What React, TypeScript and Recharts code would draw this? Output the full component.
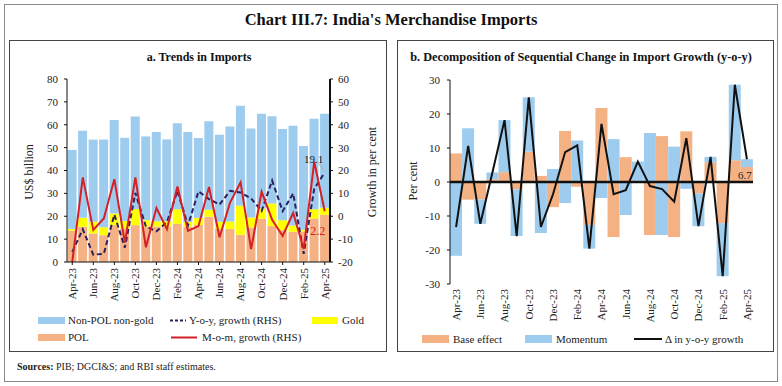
import React from "react";
import { ComposedChart, Bar, Line, XAxis, YAxis, ReferenceLine } from "recharts";

const months = [
  "Apr-23", "May-23", "Jun-23", "Jul-23", "Aug-23", "Sep-23", "Oct-23", "Nov-23", "Dec-23",
  "Jan-24", "Feb-24", "Mar-24", "Apr-24", "May-24", "Jun-24", "Jul-24", "Aug-24", "Sep-24",
  "Oct-24", "Nov-24", "Dec-24", "Jan-25", "Feb-25", "Mar-25", "Apr-25",
];

// panel a: US$ billion
const polImports = [13.7, 15.4, 12.5, 11.7, 16.1, 14.7, 16.1, 15.6, 15.5, 15.5, 16.7, 15.4, 16.2, 19.8, 14.4, 14.4, 11.9, 15.0, 18.9, 15.7, 13.9, 13.2, 13.3, 19.0, 20.6];
const goldImports = [0.8, 3.9, 5.1, 3.5, 5.1, 3.2, 7.1, 2.7, 2.3, 2.3, 6.4, 2.1, 3.1, 3.0, 3.2, 3.3, 12.7, 4.4, 4.5, 9.9, 4.4, 2.8, 0.8, 4.1, 3.1];
const nonPolNonGold = [34.5, 38.1, 35.9, 38.3, 40.9, 36.4, 40.4, 36.6, 39.0, 35.8, 37.6, 39.3, 34.9, 38.7, 38.0, 41.5, 43.7, 39.0, 41.4, 38.1, 39.8, 43.6, 36.6, 39.5, 41.1];
// panel a: per cent (RHS)
const yoyGrowth = [-15.6, -5.7, -16.8, -16.4, 0.7, -13.7, 10.2, -4.5, -6.6, -2.5, 11.0, -4.0, 10.9, 7.5, 5.1, 11.1, 10.4, 7.8, 2.3, 15.6, 2.2, 10.0, -16.4, 12.0, 19.1];
const momGrowth = [-20.0, 17.0, -6.0, -1.0, 16.2, -11.5, 17.0, -13.6, 3.6, -5.6, 13.0, -6.4, -4.3, 12.8, -9.2, 6.0, 14.8, -14.4, 10.7, -1.5, -8.6, 1.5, -14.3, 23.8, 2.2];

// panel b: per cent
const baseEffect = [8.4, -5.2, -5.1, 0.8, 2.9, -2.2, 8.9, 1.8, -7.4, 15.0, -1.4, -12.6, 21.8, -16.2, 7.3, 0.4, -15.6, 13.5, -16.2, 14.9, -3.4, 5.8, -12.1, 6.4, 4.4];
const momentum = [-21.7, 15.8, -7.2, 2.0, 15.3, -13.7, 16.0, -15.0, 3.8, -6.2, 12.2, -7.0, -4.7, 12.6, -9.7, 5.6, 14.4, -15.6, 10.4, -2.0, -9.6, 1.6, -15.6, 22.2, 2.3];
const yoyChange = [-13.3, 10.6, -12.3, 2.8, 18.2, -15.9, 24.9, -13.2, -3.6, 8.8, 10.8, -19.6, 17.1, -3.6, -2.4, 6.0, -1.2, -2.1, -5.8, 12.9, -13.0, 7.4, -27.7, 28.6, 6.7];

const leftTicks = [0, 10, 20, 30, 40, 50, 60, 70, 80];
const rightTicks = [-20, -10, 0, 10, 20, 30, 40, 50, 60];
const panelBTicks = [-30, -20, -10, 0, 10, 20, 30];

const FONT = "'Liberation Serif', 'DejaVu Serif', serif";
const BLUE = "#9DCCEE";
const ORANGE = "#F4B183";
const YELLOW = "#FFFF00";
const RED = "#D42027";
const NAVY = "#2E1F5E";

const importsData = months.map((m, i) => ({
  month: m,
  pol: polImports[i],
  gold: goldImports[i],
  nonPol: nonPolNonGold[i],
  yoy: yoyGrowth[i],
  mom: momGrowth[i],
}));

const decompData = months.map((m, i) => ({
  month: m,
  base: baseEffect[i],
  momentum: momentum[i],
  change: yoyChange[i],
}));

const last = months.length - 1;

const MonthTick = ({ x, y, payload }: any) => (
  <text
    x={x}
    y={y}
    transform={`rotate(-90 ${x} ${y})`}
    textAnchor="end"
    dy="0.35em"
    fontSize={11}
    fontFamily={FONT}
    fill="#222"
  >
    {payload.value}
  </text>
);

const tickStyle = { fontSize: 11, fontFamily: FONT, fill: "#222" };

const YoyLabel = (props: any) => {
  const { x, y, index } = props;
  if (index !== last) return null;
  return (
    <g>
      <line x1={x - 6} y1={y - 9} x2={x - 1} y2={y - 2} stroke="#aaa" strokeWidth={1} />
      <text x={x - 11} y={y - 10} textAnchor="middle" fontSize={11} fontFamily={FONT} fill="#222">
        19.1
      </text>
    </g>
  );
};

const MomLabel = (props: any) => {
  const { x, y, index } = props;
  if (index !== last) return null;
  return (
    <text x={x - 7} y={y + 24} textAnchor="middle" fontSize={12} fontFamily={FONT} fill={RED}>
      2.2
    </text>
  );
};

const ChangeLabel = (props: any) => {
  const { x, y, index } = props;
  if (index !== last) return null;
  return (
    <text x={x - 2} y={y + 20} textAnchor="middle" fontSize={11} fontFamily={FONT} fill="#222">
      6.7
    </text>
  );
};

const Frame = () => (
  <svg width={782} height={386} style={{ position: "absolute", left: 0, top: 0 }}>
    <rect x={4.5} y={4.5} width={773} height={377} fill="none" stroke="#8a8a8a" />
    <rect x={9.5} y={40.5} width={377} height={311} fill="none" stroke="#444" />
    <rect x={397.5} y={40.5} width={376} height={311} fill="none" stroke="#444" />
    <text x={391} y={25} textAnchor="middle" fontSize={16.5} fontWeight="bold" fontFamily={FONT} fill="#111">
      Chart III.7: India's Merchandise Imports
    </text>
    <text x={199} y={61} textAnchor="middle" fontSize={12} fontWeight="bold" fontFamily={FONT} fill="#111">
      a. Trends in Imports
    </text>
    <text x={581} y={61} textAnchor="middle" fontSize={12.3} fontWeight="bold" fontFamily={FONT} fill="#111">
      b. Decomposition of Sequential Change in Import Growth (y-o-y)
    </text>
    <text x={29} y={172} transform="rotate(-90 29 172)" textAnchor="middle" dy="0.35em" fontSize={12} fontFamily={FONT} fill="#222">
      US$ billion
    </text>
    <text x={372} y={172} transform="rotate(-90 372 172)" textAnchor="middle" dy="0.35em" fontSize={12} fontFamily={FONT} fill="#222">
      Growth in per cent
    </text>
    <text x={413} y={181} transform="rotate(-90 413 181)" textAnchor="middle" dy="0.35em" fontSize={12} fontFamily={FONT} fill="#222">
      Per cent
    </text>

    {/* legend a */}
    <g fontSize={11} fontFamily={FONT} fill="#222">
      <rect x={38} y={317} width={27} height={7} fill={BLUE} />
      <text x={68} y={324}>Non-POL non-gold</text>
      <line x1={170} x2={186} y1={320.5} y2={320.5} stroke={NAVY} strokeWidth={2} strokeDasharray="3 2" />
      <text x={189} y={324}>Y-o-y, growth (RHS)</text>
      <rect x={312} y={317} width={26} height={7} fill={YELLOW} />
      <text x={342} y={324}>Gold</text>
      <rect x={38} y={334} width={27} height={7} fill={ORANGE} />
      <text x={68} y={341}>POL</text>
      <line x1={171} x2={197} y1={337.5} y2={337.5} stroke={RED} strokeWidth={2} />
      <text x={202} y={341}>M-o-m, growth (RHS)</text>
    </g>

    {/* legend b */}
    <g fontSize={11} fontFamily={FONT} fill="#222">
      <rect x={422} y={335} width={27} height={8} fill={ORANGE} />
      <text x={453} y={343}>Base effect</text>
      <rect x={525} y={335} width={27} height={8} fill={BLUE} />
      <text x={556} y={343}>Momentum</text>
      <line x1={634} x2={662} y1={339} y2={339} stroke="#111" strokeWidth={2} />
      <text x={665} y={343}>Δ in y-o-y growth</text>
    </g>

    <text x={17} y={370} fontSize={10} fontFamily={FONT} fill="#222">
      <tspan fontWeight="bold">Sources:</tspan> PIB; DGCI&amp;S; and RBI staff estimates.
    </text>
  </svg>
);

const ImportsChart = () => (
  <div style={{ position: "absolute", left: 0, top: 0 }}>
    <ComposedChart
      width={390}
      height={310}
      data={importsData}
      margin={{ top: 79, right: 30, bottom: 8, left: 37 }}
      barCategoryGap={0.6}
    >
      <XAxis
        dataKey="month"
        interval={1}
        height={40}
        tick={<MonthTick />}
        tickSize={3}
        tickMargin={3}
        axisLine={{ stroke: "#111" }}
        tickLine={{ stroke: "#111" }}
      />
      <YAxis
        yAxisId="left"
        domain={[0, 80]}
        ticks={leftTicks}
        width={30}
        tickSize={3}
        tickMargin={6}
        tick={tickStyle}
        axisLine={{ stroke: "#111" }}
        tickLine={{ stroke: "#111" }}
      />
      <YAxis
        yAxisId="right"
        orientation="right"
        domain={[-20, 60]}
        ticks={rightTicks}
        width={30}
        tickSize={3}
        tickMargin={5}
        tick={tickStyle}
        axisLine={{ stroke: "#111", strokeWidth: 2 }}
        tickLine={{ stroke: "#111" }}
        allowDataOverflow
      />
      <Bar yAxisId="left" dataKey="pol" stackId="a" fill={ORANGE} isAnimationActive={false} />
      <Bar yAxisId="left" dataKey="gold" stackId="a" fill={YELLOW} isAnimationActive={false} />
      <Bar yAxisId="left" dataKey="nonPol" stackId="a" fill={BLUE} isAnimationActive={false} />
      <Line
        yAxisId="right"
        dataKey="yoy"
        type="linear"
        stroke={NAVY}
        strokeWidth={2}
        strokeDasharray="5 3"
        dot={false}
        label={<YoyLabel />}
        isAnimationActive={false}
      />
      <Line
        yAxisId="right"
        dataKey="mom"
        type="linear"
        stroke={RED}
        strokeWidth={2}
        dot={false}
        label={<MomLabel />}
        isAnimationActive={false}
      />
    </ComposedChart>
  </div>
);

const DecompositionChart = () => (
  <div style={{ position: "absolute", left: 390, top: 0 }}>
    <ComposedChart
      width={390}
      height={330}
      data={decompData}
      stackOffset="sign"
      margin={{ top: 80, right: 27, bottom: 6, left: 30 }}
      barCategoryGap={0}
    >
      <XAxis
        dataKey="month"
        interval={1}
        height={40}
        tick={<MonthTick />}
        tickSize={0}
        tickMargin={5}
        axisLine={false}
        tickLine={false}
      />
      <YAxis
        domain={[-30, 30]}
        ticks={panelBTicks}
        width={30}
        tickSize={3}
        tickMargin={7}
        tick={tickStyle}
        axisLine={{ stroke: "#111" }}
        tickLine={{ stroke: "#111" }}
      />
      <Bar dataKey="base" stackId="b" fill={ORANGE} isAnimationActive={false} />
      <Bar dataKey="momentum" stackId="b" fill={BLUE} isAnimationActive={false} />
      <ReferenceLine y={0} stroke="#111" strokeWidth={2.5} />
      <Line
        dataKey="change"
        type="linear"
        stroke="#111"
        strokeWidth={2}
        dot={false}
        label={<ChangeLabel />}
        isAnimationActive={false}
      />
    </ComposedChart>
  </div>
);

export default function App() {
  return (
    <div style={{ position: "absolute", left: 0, top: 0, width: 782, height: 386, background: "#fff" }}>
      <Frame />
      <ImportsChart />
      <DecompositionChart />
    </div>
  );
}
